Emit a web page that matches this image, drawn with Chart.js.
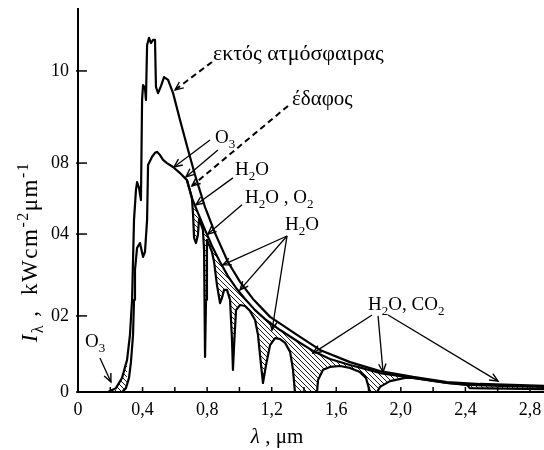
<!DOCTYPE html>
<html>
<head>
<meta charset="utf-8">
<script src="https://cdn.jsdelivr.net/npm/chart.js@4.4.1/dist/chart.umd.min.js"></script>
<style>
  html, body { margin: 0; padding: 0; background: #fff; }
</style>
</head>
<body>
<canvas id="chart" width="544" height="450"></canvas>
<script>
// spectrum outside the atmosphere (wavelength in µm, intensity in axis units)
const outerX = [0.186,0.235,0.273,0.304,0.322,0.335,0.347,0.359,0.366,0.378,0.390,0.397,0.403,0.415,0.421,0.428,0.440,0.452,0.465,0.477,0.483,0.496,0.514,0.533,0.558,0.589,0.632,0.682,0.725,0.787,0.849,0.929,1.004,1.084,1.190,1.357,1.499,1.685,1.871,2.076,2.286,2.491,2.887];
const outerY = [0,0.012,0.044,0.100,0.178,0.287,0.536,0.629,0.654,0.636,0.598,0.910,0.956,0.947,0.910,1.081,1.103,1.087,1.097,1.097,0.950,0.931,0.953,0.981,0.972,0.931,0.847,0.754,0.676,0.576,0.495,0.405,0.343,0.290,0.234,0.178,0.131,0.093,0.065,0.047,0.031,0.025,0.019];

// spectrum at ground level
const groundX = [0.136,0.273,0.297,0.316,0.328,0.341,0.347,0.353,0.366,0.384,0.403,0.415,0.428,0.434,0.458,0.477,0.489,0.508,0.527,0.551,0.589,0.632,
  0.675,0.694,0.706,0.713,0.719,0.731,0.743,0.750,0.762,0.774,0.781,0.787,0.793,0.799,0.818,0.830,0.843,0.861,0.880,0.892,0.905,0.923,0.942,0.954,0.960,0.967,0.979,
  1.004,1.035,1.066,1.097,1.115,1.134,1.146,1.165,1.190,1.221,1.252,1.283,1.314,1.332,1.344,1.481,1.487,1.518,1.561,1.623,1.685,1.747,1.784,1.809,1.853,1.871,1.933,
  2.026,2.076,2.286,2.410,2.429,2.887];
const groundY = [0,0,0.012,0.044,0.093,0.178,0.287,0.380,0.449,0.464,0.421,0.436,0.536,0.707,0.732,0.745,0.748,0.738,0.723,0.713,0.701,0.682,
  0.660,0.626,0.604,0.551,0.480,0.464,0.489,0.539,0.523,0.505,0.442,0.109,0.287,0.474,0.452,0.436,0.405,0.333,0.277,0.293,0.318,0.318,0.287,0.162,0.069,0.146,0.255,
  0.271,0.268,0.252,0.224,0.178,0.084,0.028,0.084,0.146,0.168,0.165,0.153,0.125,0.069,0,0,0.037,0.069,0.078,0.081,0.075,0.062,0.044,0,0,0.016,0.034,
  0.044,0.044,0.028,0.022,0.012,0.009];

// ground level without molecular absorption (upper edge of the hatched bands)
const envelopeX = [0.675,0.706,0.743,0.787,0.830,0.880,0.929,0.979,1.035,1.097,1.159,1.252,1.357,1.456,1.561,1.685,1.778,1.871,2.076,2.286,2.429,2.615,2.887];
const envelopeY = [0.660,0.604,0.558,0.505,0.455,0.405,0.361,0.324,0.290,0.255,0.227,0.193,0.159,0.128,0.103,0.084,0.072,0.059,0.044,0.028,0.022,0.019,0.016];

const yTickValues = [0, 0.237, 0.492, 0.713, 1.0];
const yTickLabels = ['0', '02', '04', '08', '10'];

// annotations, placed in axis units
const notes = [
  {text: 'εκτός ατμόσφαιρας', x: 0.836, y: 1.034, size: 22},
  {text: 'έδαφος', x: 1.326, y: 0.894, size: 21},
  {text: 'O_{3}', x: 0.849, y: 0.776, size: 19},
  {text: 'H_{2}O', x: 0.973, y: 0.676, size: 19},
  {text: 'H_{2}O , O_{2}', x: 1.035, y: 0.589, size: 19},
  {text: 'H_{2}O', x: 1.283, y: 0.505, size: 19},
  {text: 'H_{2}O, CO_{2}', x: 1.797, y: 0.255, size: 19},
  {text: 'O_{3}', x: 0.043, y: 0.140, size: 19}
];
const arrows = [
  {from: [0.830, 1.028], to: [0.601, 0.941], dashed: true},
  {from: [1.301, 0.891], to: [0.706, 0.642], dashed: true},
  {from: [0.818, 0.785], to: [0.595, 0.701]},
  {from: [0.867, 0.754], to: [0.669, 0.670]},
  {from: [0.960, 0.667], to: [0.731, 0.583]},
  {from: [1.016, 0.583], to: [0.805, 0.492]},
  {from: [1.295, 0.486], to: [0.898, 0.396]},
  {from: [1.295, 0.486], to: [1.004, 0.318]},
  {from: [1.295, 0.486], to: [1.202, 0.193]},
  {from: [1.822, 0.240], to: [1.456, 0.121]},
  {from: [1.859, 0.237], to: [1.890, 0.062]},
  {from: [1.921, 0.240], to: [2.602, 0.034]},
  {from: [0.136, 0.106], to: [0.204, 0.031]}
];

const SERIF = '"Liberation Serif", "DejaVu Serif", serif';

function pts(xs, ys) {
  return xs.map((x, i) => ({x: x, y: ys[i]}));
}

function makeHatch() {
  const c = document.createElement('canvas');
  c.width = 5; c.height = 5;
  const g = c.getContext('2d');
  g.strokeStyle = '#000';
  g.lineWidth = 0.9;
  g.beginPath();
  g.moveTo(-1, -1); g.lineTo(6, 6);
  g.moveTo(-1, 4); g.lineTo(1, 6);
  g.moveTo(4, -1); g.lineTo(6, 1);
  g.stroke();
  return g.createPattern(c, 'repeat');
}

function parseRich(s) {
  const out = [];
  const re = /([_^*])\{([^}]*)\}|([^_^*]+)/g;
  let m;
  while ((m = re.exec(s))) {
    if (m[3]) out.push({t: m[3], k: 'n'});
    else out.push({t: m[2], k: m[1] == '_' ? 'sub' : (m[1] == '^' ? 'sup' : 'it')});
  }
  return out;
}

function fontFor(k, size) {
  const s = (k == 'sub' || k == 'sup') ? Math.round(size * 0.68) : size;
  return (k == 'it' ? 'italic ' : '') + s + 'px ' + SERIF;
}

function drawRich(ctx, s, x, y, size, align) {
  const parts = parseRich(s);
  let w = 0;
  parts.forEach(p => {
    ctx.font = fontFor(p.k, size);
    p.w = ctx.measureText(p.t).width;
    w += p.w;
  });
  let cx = align == 'center' ? x - w / 2 : x;
  ctx.textAlign = 'left';
  ctx.textBaseline = 'alphabetic';
  parts.forEach(p => {
    ctx.font = fontFor(p.k, size);
    let dy = 0;
    if (p.k == 'sub') dy = size * 0.25;
    if (p.k == 'sup') dy = -size * 0.38;
    ctx.fillText(p.t, cx, y + dy);
    cx += p.w;
  });
}

function drawArrow(ctx, x1, y1, x2, y2, dashed) {
  ctx.lineWidth = dashed ? 2 : 1.3;
  ctx.setLineDash(dashed ? [6, 4] : []);
  ctx.beginPath();
  ctx.moveTo(x1, y1);
  ctx.lineTo(x2, y2);
  ctx.stroke();
  ctx.setLineDash([]);
  const a = Math.atan2(y2 - y1, x2 - x1);
  const len = 9, spread = 0.42;
  ctx.lineWidth = 1.4;
  ctx.beginPath();
  ctx.moveTo(x2 - len * Math.cos(a - spread), y2 - len * Math.sin(a - spread));
  ctx.lineTo(x2, y2);
  ctx.lineTo(x2 - len * Math.cos(a + spread), y2 - len * Math.sin(a + spread));
  ctx.stroke();
}

const decor = {
  id: 'decor',
  afterDraw(chart) {
    const ctx = chart.ctx;
    const xs = chart.scales.x, ys = chart.scales.y;
    const area = chart.chartArea;
    ctx.save();
    ctx.strokeStyle = '#000';
    ctx.fillStyle = '#000';

    // tick marks pointing into the plot
    ctx.lineWidth = 1.5;
    xs.ticks.forEach(t => {
      const px = xs.getPixelForValue(t.value);
      ctx.beginPath();
      ctx.moveTo(px, area.bottom);
      ctx.lineTo(px, area.bottom - 5);
      ctx.stroke();
    });
    ys.ticks.forEach(t => {
      const py = ys.getPixelForValue(t.value);
      ctx.beginPath();
      ctx.moveTo(area.left - 2, py);
      ctx.lineTo(area.left + 9, py);
      ctx.stroke();
    });

    arrows.forEach(a => {
      drawArrow(ctx,
        xs.getPixelForValue(a.from[0]), ys.getPixelForValue(a.from[1]),
        xs.getPixelForValue(a.to[0]), ys.getPixelForValue(a.to[1]), a.dashed);
    });

    notes.forEach(n => {
      drawRich(ctx, n.text, xs.getPixelForValue(n.x), ys.getPixelForValue(n.y), n.size, 'left');
    });

    // axis titles
    drawRich(ctx, '*{λ} , μm', 277, 443, 21, 'center');
    ctx.translate(37, 252);
    ctx.rotate(-Math.PI / 2);
    ctx.letterSpacing = '1.5px';
    drawRich(ctx, '*{I}_{λ} ,  kWcm^{-2}μm^{-1}', 0, 0, 23, 'center');
    ctx.restore();
  }
};

const hatch = makeHatch();
const outer = pts(outerX, outerY);
const ground = pts(groundX, groundY);
const envelope = pts(envelopeX, envelopeY);
const absorbed = ground.filter(p => p.x >= envelopeX[0]);
const ozone = outer.filter(p => p.x <= 0.31);

const lineStyle = {
  borderColor: '#000',
  borderWidth: 2.2,
  borderJoinStyle: 'round',
  pointRadius: 0,
  tension: 0,
  fill: false
};

new Chart(document.getElementById('chart'), {
  type: 'line',
  data: {
    datasets: [
      Object.assign({label: 'outside', data: outer}, lineStyle),
      Object.assign({label: 'envelope', data: envelope}, lineStyle),
      Object.assign({label: 'ground', data: ground}, lineStyle),
      {label: 'absorbed', data: absorbed, borderWidth: 0, borderColor: 'rgba(0,0,0,0)', pointRadius: 0,
       backgroundColor: hatch, fill: {target: 1, above: hatch, below: hatch}},
      {label: 'ozone', data: ozone, borderWidth: 0, borderColor: 'rgba(0,0,0,0)', pointRadius: 0,
       backgroundColor: hatch, fill: {target: 2, above: hatch, below: hatch}}
    ]
  },
  options: {
    responsive: false,
    animation: false,
    layout: {padding: {top: 9, right: 0, bottom: 0, left: 0}},
    plugins: {legend: {display: false}, tooltip: {enabled: false}},
    scales: {
      x: {
        type: 'linear',
        min: 0,
        max: 2.887,
        afterFit: s => {
          s.height = 58;
          s.paddingLeft = 0;
          s.paddingRight = 0;
        },
        grid: {display: false, drawTicks: false},
        border: {display: true, color: '#000', width: 2},
        ticks: {
          stepSize: 0.2,
          includeBounds: false,
          autoSkip: false,
          maxRotation: 0,
          padding: 7,
          color: '#000',
          font: {family: SERIF, size: 18},
          callback: v => {
            const k = Math.round(v * 10);
            return k % 4 == 0 ? (k / 10).toFixed(k == 0 ? 0 : 1).replace('.', ',') : '';
          }
        }
      },
      y: {
        type: 'linear',
        min: 0,
        max: 1.193,
        afterFit: s => {
          s.width = 78;
          s.paddingTop = 0;
          s.paddingBottom = 0;
        },
        afterBuildTicks: s => { s.ticks = yTickValues.map(v => ({value: v})); },
        grid: {display: false, drawTicks: false},
        border: {display: true, color: '#000', width: 2},
        ticks: {
          padding: 9,
          color: '#000',
          font: {family: SERIF, size: 18},
          callback: v => yTickLabels[yTickValues.indexOf(v)]
        }
      }
    }
  },
  plugins: [decor]
});
</script>
</body>
</html>
